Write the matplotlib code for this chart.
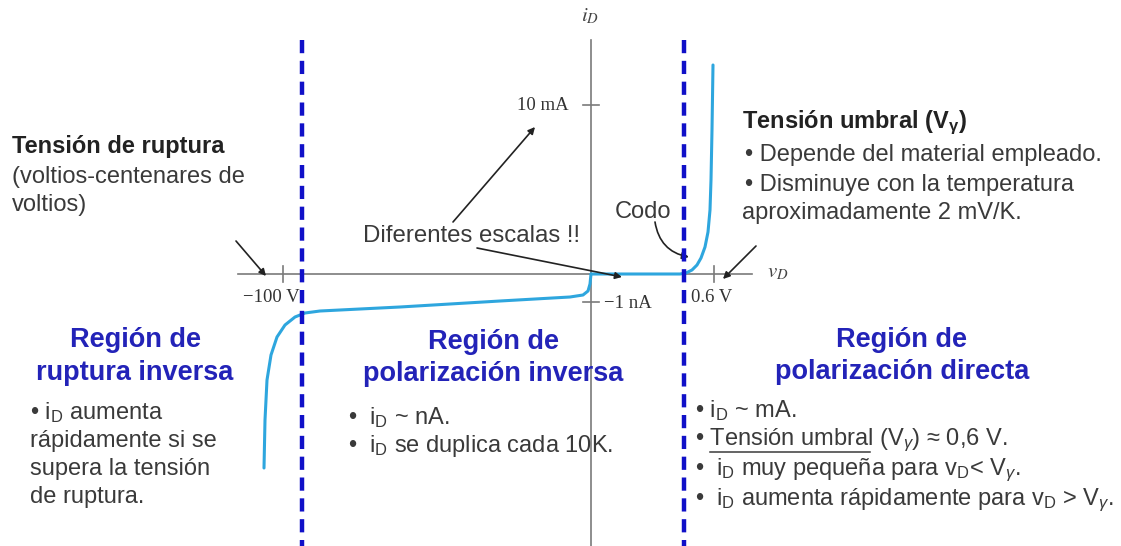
import matplotlib
matplotlib.use("Agg")
import matplotlib.pyplot as plt
import numpy as np

plt.rcParams['font.family'] = ['Liberation Sans', 'DejaVu Sans']
plt.rcParams['mathtext.fontset'] = 'custom'
plt.rcParams['mathtext.rm'] = 'Liberation Sans'
plt.rcParams['mathtext.it'] = 'Liberation Sans:italic'
plt.rcParams['mathtext.bf'] = 'Liberation Sans:bold'
plt.rcParams['lines.scale_dashes'] = False

# ---- data (diagram coordinates, pixel-like units, y downward) ----
forward_x = [591, 640, 680, 686, 692, 697, 701, 705, 708, 710, 711, 712, 713]
forward_y = [274, 274, 274, 273, 270, 265, 258, 247, 232, 210, 180, 130, 65]
reverse_x = [591, 590, 588, 583, 570, 500, 400, 320, 305, 295, 285, 277, 271, 267, 265, 264]
reverse_y = [274, 284, 291, 295, 297, 301, 307, 311, 313, 317, 325, 337, 355, 380, 420, 468]
v_ticks = [283, 714]
v_tick_labels = ["\u2212100 V", "0.6 V"]
i_ticks = [105, 302]
i_tick_labels = ["10 mA", "\u22121 nA"]
region_bounds = [302, 684]

GREY = '#3a3a3a'
BLUE = '#2323b8'
CURVE = '#2ea6de'

fig = plt.figure(figsize=(11.21, 5.46), dpi=100)
ax = fig.add_axes([0, 0, 1, 1])
ax.set_xlim(0, 1121)
ax.set_ylim(546, 0)
ax.axis('off')

# axes of the diagram
ax.plot([238, 752], [274, 274], color='#7a7a7a', lw=1.2, zorder=2)
ax.plot([591, 591], [40, 546], color='#7a7a7a', lw=1.2, zorder=2)
for x in v_ticks:
    ax.plot([x, x], [266, 282], color='#7a7a7a', lw=1.2)
for y in i_ticks:
    ax.plot([583, 599], [y, y], color='#7a7a7a', lw=1.2)

serif = dict(family=['Liberation Serif', 'DejaVu Serif'], color='#333333', fontsize=13.5)
ax.text(v_ticks[0] - 12, 297, v_tick_labels[0], ha='center', va='center', **serif)
ax.text(v_ticks[1] - 2, 297, v_tick_labels[1], ha='center', va='center', **serif)
ax.text(569, i_ticks[0], i_tick_labels[0], ha='right', va='center', **serif)
ax.text(604, i_ticks[1] + 1, i_tick_labels[1], ha='left', va='center', **serif)
ax.text(590, 16, r'$i_D$', ha='center', va='center', fontsize=15, color='#444444', math_fontfamily='stix')
ax.text(767, 273, r'$v_D$', ha='left', va='center', fontsize=15, color='#444444', math_fontfamily='stix')

# region boundaries
for x in region_bounds:
    ax.plot([x, x], [40, 546], color='#1010c8', lw=3.2, linestyle=(0, (9.5, 5.5)), zorder=4)

# characteristic curve
ax.plot(forward_x, forward_y, color=CURVE, lw=2.2, zorder=3, solid_capstyle='round')
ax.plot(reverse_x, reverse_y, color=CURVE, lw=2.2, zorder=3, solid_capstyle='round')

# annotation arrows
arrow = dict(arrowstyle='-|>', color='#222222', lw=1.2, mutation_scale=10, shrinkA=0, shrinkB=0)
ax.annotate('', xy=(266, 276), xytext=(236, 241), arrowprops=arrow)
ax.annotate('', xy=(535, 127), xytext=(453, 222), arrowprops=arrow)
ax.annotate('', xy=(622, 277), xytext=(477, 248), arrowprops=arrow)
ax.annotate('', xy=(689, 257), xytext=(655, 222),
            arrowprops=dict(arrow, connectionstyle='arc3,rad=0.35'))
ax.annotate('', xy=(723, 279), xytext=(756, 246), arrowprops=arrow)

fs = 17
# top-left annotation
ax.text(12, 147, 'Tensión de ruptura', fontsize=fs, fontweight='bold', color='#222222', va='center')
ax.text(12, 177, '(voltios-centenares de', fontsize=fs, color=GREY, va='center')
ax.text(12, 205, 'voltios)', fontsize=fs, color=GREY, va='center')

ax.text(363, 236, 'Diferentes escalas !!', fontsize=17.3, color=GREY, va='center')
ax.text(615, 212, 'Codo', fontsize=fs, color=GREY, va='center')

ax.text(742, 123, r'Tensión umbral (V$_\mathbf{\gamma}$)', fontsize=fs, fontweight='bold', color='#222222', va='center')
ax.text(745, 155, '• Depende del material empleado.', fontsize=fs, color=GREY, va='center')
ax.text(745, 185, '• Disminuye con la temperatura', fontsize=fs, color=GREY, va='center')
ax.text(742, 213, 'aproximadamente 2 mV/K.', fontsize=fs, color=GREY, va='center')

# region titles
title = dict(fontsize=19.5, fontweight='bold', color=BLUE, ha='center', va='center')
ax.text(135, 340, 'Región de', **title)
ax.text(135, 373, 'ruptura inversa', **title)
ax.text(493, 342, 'Región de', **title)
ax.text(493, 374, 'polarización inversa', **title)
ax.text(902, 340, 'Región de', **title)
ax.text(902, 372, 'polarización directa', **title)

body = dict(fontsize=17, color=GREY, va='center')
ax.text(30, 413, r'• i$_\mathrm{D}$ aumenta', **body)
ax.text(30, 441, 'rápidamente si se', **body)
ax.text(30, 469, 'supera la tensión', **body)
ax.text(30, 497, 'de ruptura.', **body)

ax.text(348, 418, r'•  i$_\mathrm{D}$ ~ nA.', **body)
ax.text(348, 446, r'•  i$_\mathrm{D}$ se duplica cada 10K.', **body)

ax.text(695, 411, r'• i$_\mathrm{D}$ ~ mA.', **body)
ax.text(695, 440, r'• Tensión umbral (V$_\gamma$) ≈ 0,6 V.', **body)
ax.text(695, 470, r'•  i$_\mathrm{D}$ muy pequeña para v$_\mathrm{D}$< V$_\gamma$.', **body)
ax.text(695, 500, r'•  i$_\mathrm{D}$ aumenta rápidamente para v$_\mathrm{D}$ > V$_\gamma$.', **body)

# underline "Tensión umbral" measured from the rendered text
renderer = fig.canvas.get_renderer()
t_a = ax.text(695, 440, '• ', alpha=0, **body)
t_b = ax.text(695, 440, '• Tensión umbral', alpha=0, **body)
inv = ax.transData.inverted()
xa = inv.transform((t_a.get_window_extent(renderer).x1, 0))[0]
xb = inv.transform((t_b.get_window_extent(renderer).x1, 0))[0]
ax.plot([xa, xb], [452, 452], color=GREY, lw=1.1)

fig.savefig('out.png', dpi=100, facecolor='white')
